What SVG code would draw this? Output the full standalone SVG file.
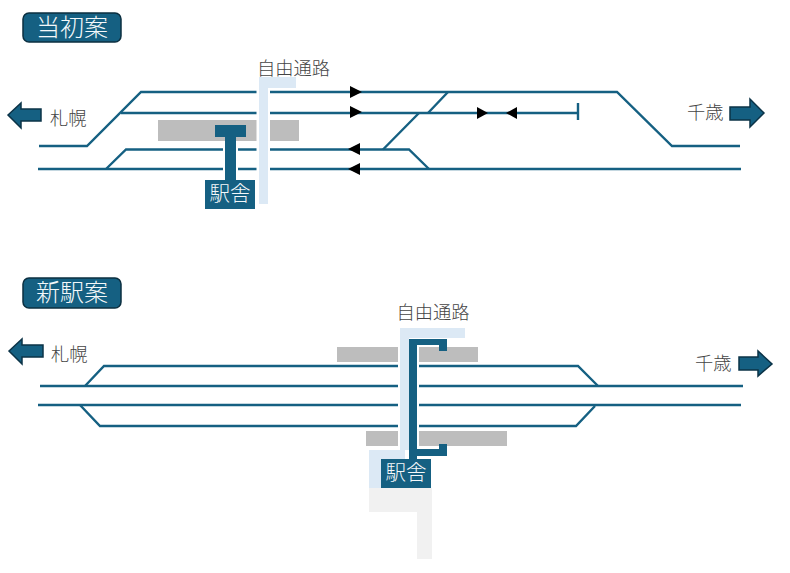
<svg xmlns="http://www.w3.org/2000/svg" width="790" height="573" viewBox="0 0 790 573">
<style>
text{font-family:"Noto Sans CJK JP","Noto Sans CJK SC",sans-serif;font-weight:300}
.track{fill:none;stroke:#156082;stroke-width:2.400}
.head{fill:#000}
.plat{fill:#bdbdbd}
.walk{fill:#dce9f5}
.ground{fill:#f1f1f1}
.gap{fill:#fff}
.st{fill:#156082}
.badge{fill:#156082;stroke:#0b2f40;stroke-width:1.500}
.dir{fill:#156082;stroke:#0b3347;stroke-width:1.500}
.lbl{fill:#444;font-size:18.300px}
.wht{fill:#f4f8fa;font-size:20.500px}
.ttl{fill:#f4f8fa;font-size:24px}
</style>
<rect width="790" height="573" fill="#fff"/>

<!-- original plan -->
<g id="title-initial"><rect class="badge" x="23" y="13" width="98" height="29" rx="6"/><text class="ttl" x="72" y="35.500" text-anchor="middle">当初案</text></g>
<g id="platform-initial"><rect class="plat" x="158" y="120" width="141" height="21"/></g>
<g id="tracks-initial" class="connectors">
<path class="track" d="M39 146H87L141 92H617L672 146H740"/>
<path class="track" d="M121 113H578M578 103V120"/>
<path class="track" d="M106 169L126 149.500H409L429 169"/>
<path class="track" d="M38 169H741"/>
<path class="track" d="M448 92L428 113M419 113L383 149.500"/>
<path class="head" d="M350 86L362 92L350 98Z"/>
<path class="head" d="M350 106L362 112L350 118Z"/>
<path class="head" d="M360 143L348 149L360 155Z"/>
<path class="head" d="M360 163L348 169L360 175Z"/>
<path class="head" d="M477 107L488 113L477 119Z"/>
<path class="head" d="M517 107L506 113L517 119Z"/>
</g>
<g id="walkway-initial"><rect class="gap" x="256.500" y="88" width="13.500" height="90"/><path class="walk" d="M259 77H296V88H268V204H259Z"/></g>
<g id="station-initial">
<rect class="gap" x="223" y="141" width="15" height="39"/>
<rect class="st" x="215" y="125" width="31" height="12"/>
<rect class="st" x="225" y="137" width="11" height="43"/>
<rect class="st" x="205" y="180" width="50" height="29"/>
<text class="wht" x="230" y="201" text-anchor="middle">駅舎</text>
</g>
<g id="label-walkway-initial"><text class="lbl" x="293.500" y="75" text-anchor="middle">自由通路</text></g>
<g id="dir-sapporo-initial"><path class="dir" d="M8 115L21 103V109H41V121H21V128Z"/><text class="lbl" x="50" y="125">札幌</text></g>
<g id="dir-chitose-initial"><path class="dir" d="M730 107H750V99L764 113L750 127V120H730Z"/><text class="lbl" x="687" y="119">千歳</text></g>

<!-- new station plan -->
<g id="title-new"><rect class="badge" x="23" y="278" width="98" height="30" rx="6"/><text class="ttl" x="72" y="301" text-anchor="middle">新駅案</text></g>
<g id="ground-new"><path class="ground" d="M369 488H432V559H417V512H369Z"/></g>
<g id="platforms-new">
<rect class="plat" x="337" y="347" width="141" height="15"/>
<rect class="plat" x="366" y="431" width="141" height="15"/>
</g>
<g id="tracks-new" class="connectors">
<path class="track" d="M85 386L104 366H578L598 386"/>
<path class="track" d="M40 386H743"/>
<path class="track" d="M38 405H741"/>
<path class="track" d="M80 405L100 426H576L595 406"/>
</g>
<g id="walkway-new"><rect class="gap" x="398" y="338" width="21" height="112"/><path class="walk" d="M400 328H465V338H409V450H405V488H369V450H400Z"/></g>
<g id="station-new">
<path class="st" d="M409 339H447V351H439V345H417V449H439V444H447V456H417V459H409Z"/>
<rect class="st" x="381" y="459" width="50" height="29"/>
<text class="wht" x="406" y="480" text-anchor="middle">駅舎</text>
</g>
<g id="label-walkway-new"><text class="lbl" x="433" y="319" text-anchor="middle">自由通路</text></g>
<g id="dir-sapporo-new"><path class="dir" d="M9 351L22 339V345H43V357H22V364Z"/><text class="lbl" x="51" y="361">札幌</text></g>
<g id="dir-chitose-new"><path class="dir" d="M739 357H758V351L772 364L758 376V370H739Z"/><text class="lbl" x="695" y="370">千歳</text></g>
</svg>
